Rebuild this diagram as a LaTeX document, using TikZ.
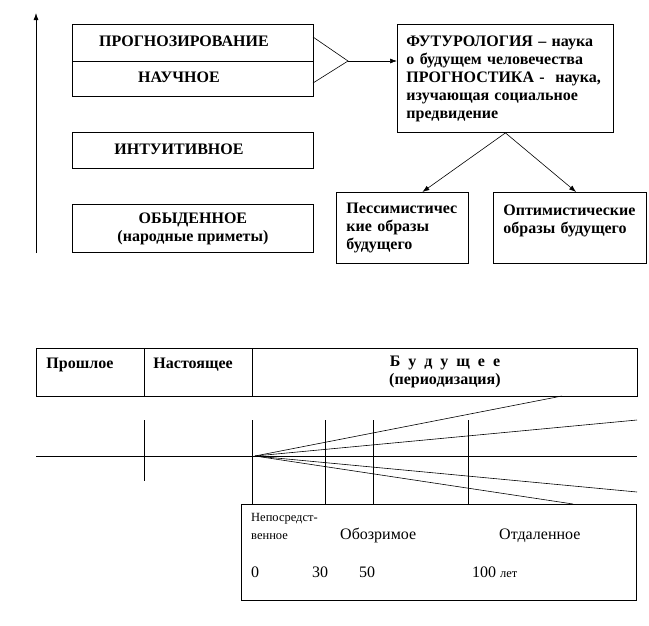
\documentclass[tikz,border=0pt]{standalone}
\usepackage{fontspec}
\setmainfont{Liberation Serif}
\usetikzlibrary{arrows.meta,positioning,calc}

\begin{document}
\begin{tikzpicture}[x=1pt, y=-1pt, >={Latex[length=7pt,width=5pt]},
  every node/.style={inner sep=0pt, font=\fontsize{16}{18}\selectfont\bfseries},
  box/.style={draw, line width=0.9pt, anchor=north west},
  txtbox/.style={box, align=left, inner xsep=10pt},
  thin/.style={line width=0.6pt}]
\useasboundingbox (0,0) rectangle (649,625);
% upper part: kinds of forecasting
\coordinate (axisbot) at (36,253);
\coordinate (axistop) at (36,13);
\draw[->, line width=0.8pt] (axisbot) -- (axistop);
\node[box, minimum width=241pt, minimum height=37pt] (prog) at (72,24) {\raisebox{3pt}{\hspace*{-18pt}ПРОГНОЗИРОВАНИЕ}};
\node[box, minimum width=241pt, minimum height=35pt] (nauch) at (72,61) {\raisebox{3pt}{\hspace*{-28pt}НАУЧНОЕ}};
\node[box, minimum width=241pt, minimum height=36pt] (intuit) at (72,132) {\raisebox{2pt}{\hspace*{-28pt}ИНТУИТИВНОЕ}};
\node[box, minimum width=241pt, minimum height=48pt, align=center] (obyd) at (72,204) {ОБЫДЕННОЕ\\(народные приметы)};
\node[txtbox, minimum width=216pt, minimum height=108pt, inner xsep=9pt, text width=198pt] (futur) at (397,24)
  {ФУТУРОЛОГИЯ -- наука\\о будущем человечества\\ПРОГНОСТИКА -\ \ наука,\\изучающая социальное\\предвидение};
\node[txtbox, minimum width=132pt, minimum height=71pt, text width=112pt] (pess) at (336,192) {Пессимистичес\\кие образы\\будущего};
\node[txtbox, minimum width=153pt, minimum height=71pt, text width=133pt] (optim) at (493,192) {Оптимистические\\образы будущего\\\mbox{}};
\coordinate (tritop) at (313,37);
\coordinate (tribot) at (313,83);
\coordinate (apex) at (348,61);
\draw[thin] (tritop) -- (apex) -- (tribot);
\draw[->, thin] (apex) -- (futur.west |- apex);
\draw[->, thin] (futur.south) -- ($(pess.north west)!0.65!(pess.north east)$);
\draw[->, thin] (futur.south) -- ($(optim.north west)!0.54!(optim.north east)$);
% lower part: periods
\node[txtbox, minimum width=108pt, minimum height=48pt, text width=88pt] (past) at (36,348) {Прошлое\\\mbox{}};
\node[txtbox, minimum width=108pt, minimum height=48pt, inner xsep=9pt, text width=90pt] (pres) at (144,348) {Настоящее\\\mbox{}};
\node[box, minimum width=385pt, minimum height=48pt, align=center] (fut) at (252,348) {Б\ \ у\ \ д\ \ у\ \ щ\ \ е\ \ е\\(периодизация)};
\node[box, minimum width=395pt, minimum height=96pt] (period) at (241,504) {};
\draw[thin] (36,456) -- (637,456);
\draw[thin] (144,420) -- (144,481);
\foreach \x in {252,325,373,468} \draw[thin] (\x,420) -- (\x,504);
\coordinate (fan) at (255,456);
\draw[thin] (fan) -- (562,396);
\draw[thin] (fan) -- (637,420);
\draw[thin] (fan) -- (637,492);
\draw[thin] (fan) -- (573,504);
\begin{scope}[every node/.style={inner sep=0pt, anchor=base west, font=\fontsize{16}{18}\selectfont}]
\node[font=\fontsize{12.5}{14}\selectfont] (near1) at (251,521) {Непосредст-};
\node[font=\fontsize{12.5}{14}\selectfont] (near2) at (251,539) {венное};
\node (visible) at (340,539) {Обозримое};
\node (remote) at (499,539) {Отдаленное};
\node (y0) at (251,577) {0};
\node (y30) at (312,577) {30};
\node (y50) at (359,577) {50};
\node (y100) at (472,577) {100 {\fontsize{12.5}{14}\selectfont лет}};
\end{scope}
\end{tikzpicture}
\end{document}
